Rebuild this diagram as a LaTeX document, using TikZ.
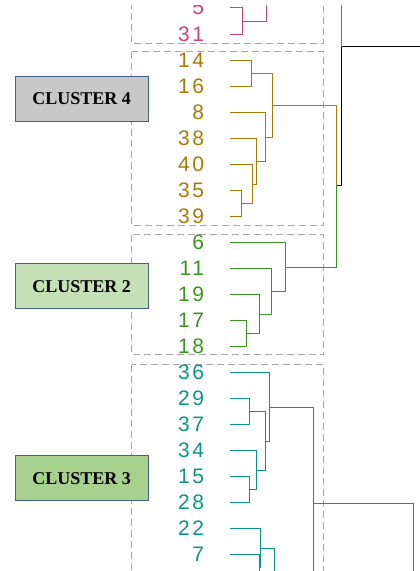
\documentclass[tikz,border=0pt]{standalone}
\usepackage{fontspec}
\setmainfont{Liberation Serif}
\newfontfamily\leaffont[LetterSpace=12]{Liberation Sans}

\definecolor{clpink}{HTML}{CC4477}
\definecolor{clbrown}{HTML}{A87A08}
\definecolor{clgreen}{HTML}{3A9420}
\definecolor{clteal}{HTML}{0A967E}
\definecolor{boxgray}{HTML}{A6A6A6}
\definecolor{tagedge}{HTML}{3F5F95}
\definecolor{tagfour}{HTML}{C8C8C8}
\definecolor{tagtwo}{HTML}{C5E0B4}
\definecolor{tagthree}{HTML}{A9D18E}

\begin{document}
\begin{tikzpicture}[x=1pt, y=-1pt]
        % Styles
        \tikzstyle{leaf} = [anchor=east, inner sep=0pt, outer xsep=26pt,
            font=\leaffont\fontsize{21}{21}\selectfont]
        \tikzstyle{tag} = [rectangle, draw=tagedge, line width=0.8pt,
            minimum width=133pt, minimum height=45pt, inner sep=0pt,
            font=\bfseries\fontsize{18}{18}\selectfont]
        \tikzstyle{groupbox} = [draw=boxgray, line width=1.3pt,
            dash pattern=on 7pt off 4pt]
        \tikzstyle{line} = [draw, line width=1.2pt]

        \useasboundingbox (0,0) rectangle (420,571);
        \clip (0,5) rectangle (420,571);

        % Group boxes
        \draw [groupbox] (131.5,-20) rectangle (323.5,43.5);
        \draw [groupbox] (131.5,51.5) rectangle (323.5,225.5);
        \draw [groupbox] (131.5,234.5) rectangle (323.5,354.5);
        \draw [groupbox] (131.5,364.5) rectangle (323.5,620);

        % Cluster tags
        \node [tag, fill=tagfour] (tag4) at (81.7,98.8) {CLUSTER 4};
        \node [tag, fill=tagtwo] (tag2) at (81.7,286.3) {CLUSTER 2};
        \node [tag, fill=tagthree] (tag3) at (81.7,478.3) {CLUSTER 3};

        % Leaves
        \node [leaf, text=clpink] (l5) at (230,7.5) {5};
        \node [leaf, text=clpink] (l31) at (230,34.5) {31};
        \node [leaf, text=clbrown] (l14) at (230,60.5) {14};
        \node [leaf, text=clbrown] (l16) at (230,86.5) {16};
        \node [leaf, text=clbrown] (l8) at (230,112.5) {8};
        \node [leaf, text=clbrown] (l38) at (230,138.5) {38};
        \node [leaf, text=clbrown] (l40) at (230,164.5) {40};
        \node [leaf, text=clbrown] (l35) at (230,190.5) {35};
        \node [leaf, text=clbrown] (l39) at (230,216.5) {39};
        \node [leaf, text=clgreen] (l6) at (230,242.5) {6};
        \node [leaf, text=clgreen] (l11) at (230,268.5) {11};
        \node [leaf, text=clgreen] (l19) at (230,294.5) {19};
        \node [leaf, text=clgreen] (l17) at (230,320.5) {17};
        \node [leaf, text=clgreen] (l18) at (230,346.5) {18};
        \node [leaf, text=clteal] (l36) at (230,372.5) {36};
        \node [leaf, text=clteal] (l29) at (230,398.5) {29};
        \node [leaf, text=clteal] (l37) at (230,424.5) {37};
        \node [leaf, text=clteal] (l34) at (230,450.5) {34};
        \node [leaf, text=clteal] (l15) at (230,476.5) {15};
        \node [leaf, text=clteal] (l28) at (230,502.5) {28};
        \node [leaf, text=clteal] (l22) at (230,528.5) {22};
        \node [leaf, text=clteal] (l7) at (230,554.5) {7};
        \coordinate (lx) at (230,581);

        % Merge points
        \coordinate (p1) at (242.5,21.5);
        \coordinate (p2) at (266.5,-40);
        \coordinate (ptop) at (300,-92.5);
        \coordinate (b1) at (251.5,73.5);
        \coordinate (b2) at (241.5,203.5);
        \coordinate (b3) at (252.5,184.5);
        \coordinate (b4) at (256.5,161.5);
        \coordinate (b5) at (265.5,137.5);
        \coordinate (b6) at (272.5,105.5);
        \coordinate (g1) at (246.5,333.5);
        \coordinate (g2) at (259.5,314.5);
        \coordinate (g3) at (271.5,291.5);
        \coordinate (g4) at (285.5,267.5);
        \coordinate (c42) at (336.5,185.5);
        \coordinate (root) at (341.5,46.5);
        \coordinate (rootup) at (440,46.5);
        \coordinate (t1) at (249.5,411.5);
        \coordinate (t2) at (249.5,489.5);
        \coordinate (t3) at (256.5,470.5);
        \coordinate (t4) at (265.5,441.5);
        \coordinate (t5) at (269.5,407.5);
        \coordinate (tx) at (290,600);
        \coordinate (t6) at (313.5,503.5);
        \coordinate (t7) at (413.5,650);
        \coordinate (t8) at (259.5,567.5);
        \coordinate (t9) at (260.5,548.5);
        \coordinate (t10) at (274.5,620);

        % Connections
        \path [line, clpink] (l5) -| (p1);
        \path [line, clpink] (l31) -| (p1);
        \path [line, clpink] (p1) -| (p2);
        \path [line, clpink] (ptop) -| (root);

        \path [line, clbrown] (l14) -| (b1);
        \path [line, clbrown] (l16) -| (b1);
        \path [line, clbrown] (l35) -| (b2);
        \path [line, clbrown] (l39) -| (b2);
        \path [line, clbrown] (l40) -| (b3);
        \path [line, clbrown] (b2) -| (b3);
        \path [line, clbrown] (l38) -| (b4);
        \path [line, clbrown] (b3) -| (b4);
        \path [line, clbrown] (l8) -| (b5);
        \path [line, clbrown] (b4) -| (b5);
        \path [line, clbrown] (b1) -| (b6);
        \path [line, clbrown] (b5) -| (b6);
        \path [line, clbrown] (b6) -| (c42);

        \path [line, clgreen] (l17) -| (g1);
        \path [line, clgreen] (l18) -| (g1);
        \path [line, clgreen] (l19) -| (g2);
        \path [line, clgreen] (g1) -| (g2);
        \path [line, clgreen] (l11) -| (g3);
        \path [line, clgreen] (g2) -| (g3);
        \path [line, clgreen] (l6) -| (g4);
        \path [line, clgreen] (g3) -| (g4);
        \path [line, clgreen] (g4) -| (c42);

        \path [line, black] (c42) -| (root);
        \path [line, black] (root) -- (rootup);

        \path [line, clteal] (l29) -| (t1);
        \path [line, clteal] (l37) -| (t1);
        \path [line, clteal] (l15) -| (t2);
        \path [line, clteal] (l28) -| (t2);
        \path [line, clteal] (l34) -| (t3);
        \path [line, clteal] (t2) -| (t3);
        \path [line, clteal] (t1) -| (t4);
        \path [line, clteal] (t3) -| (t4);
        \path [line, clteal] (l36) -| (t5);
        \path [line, clteal] (t4) -| (t5);
        \path [line, clteal] (t5) -| (t6);
        \path [line, clteal] (tx) -| (t6);
        \path [line, clteal] (t6) -| (t7);
        \path [line, clteal] (l7) -| (t8);
        \path [line, clteal] (lx) -| (t8);
        \path [line, clteal] (l22) -| (t9);
        \path [line, clteal] (t8) -| (t9);
        \path [line, clteal] (t9) -| (t10);
    \end{tikzpicture}
\end{document}
